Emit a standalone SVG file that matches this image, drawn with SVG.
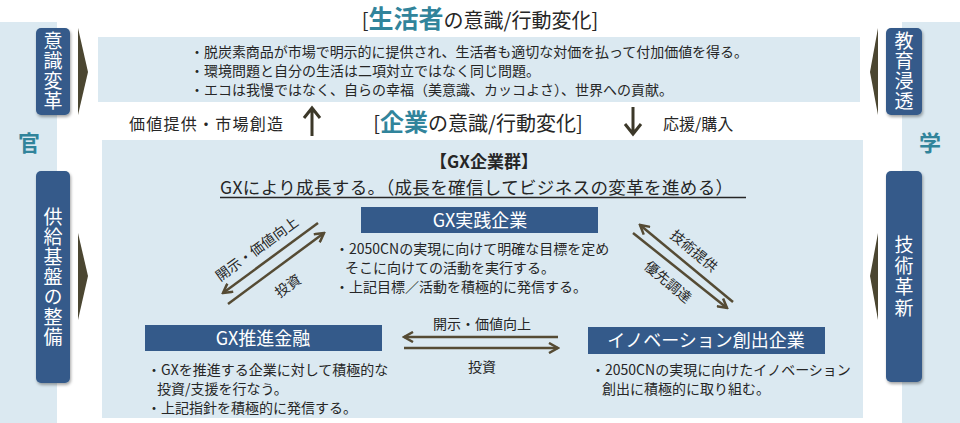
<svg xmlns="http://www.w3.org/2000/svg" width="960" height="423" viewBox="0 0 960 423">
<style>
text{font-family:"Noto Sans CJK JP","Noto Sans",sans-serif;fill:#262626}
.bg{fill:#dbe9f1}
.pill{fill:#345a8a;filter:url(#sh)}
.pt{fill:#fff;font-size:19px;text-anchor:middle;writing-mode:vertical-rl}
.box{fill:#345a8a}
.bt{fill:#fff;font-size:18px;text-anchor:middle}
.b{font-size:14px}
.l{font-size:16px}
.teal{fill:#31849b;font-weight:bold}
.tri{fill:#4b4631}
.arr{stroke:#554b34;stroke-width:2.5;fill:none;marker-end:url(#ah)}
.va{stroke:#3c3829;stroke-width:3;fill:none}
</style>
<defs>
<filter id="sh" x="-30%" y="-10%" width="160%" height="120%"><feDropShadow dx="1" dy="2" stdDeviation="1.5" flood-color="#000" flood-opacity="0.35"/></filter>
<marker id="ah" viewBox="0 0 12 12" refX="10" refY="6" markerWidth="12" markerHeight="12" markerUnits="userSpaceOnUse" orient="auto"><path d="M1,1 L10,6 L1,11" fill="none" stroke="#554b34" stroke-width="2.5"/></marker>
</defs>

<g id="side-left">
<rect class="bg" x="0" y="22" width="57" height="401"/>
<text x="29" y="151" font-size="22" class="teal" text-anchor="middle">官</text>
</g>
<g id="side-right">
<rect class="bg" x="902" y="22" width="58" height="401"/>
<text x="930" y="151" font-size="22" class="teal" text-anchor="middle">学</text>
</g>

<g id="consumer">
<text x="480" y="28" text-anchor="middle" font-size="20">[<tspan class="teal" font-size="25">生活者</tspan>の意識/行動変化]</text>
<rect class="bg" x="98" y="37" width="762" height="65"/>
<text class="b" x="190" y="57" textLength="558">・脱炭素商品が市場で明示的に提供され、生活者も適切な対価を払って付加価値を得る。</text>
<text class="b" x="190" y="76">・環境問題と自分の生活は二項対立ではなく同じ問題。</text>
<text class="b" x="190" y="95">・エコは我慢ではなく、自らの幸福（美意識、カッコよさ）、世界への貢献。</text>
</g>

<g id="mid-labels">
<text class="l" x="129" y="130" textLength="154">価値提供・市場創造</text>
<text x="478" y="131" text-anchor="middle" font-size="20">[<tspan class="teal" font-size="24">企業</tspan>の意識/行動変化]</text>
<text class="l" x="663" y="130">応援/購入</text>
</g>

<g id="gx-group">
<rect class="bg" x="102" y="140" width="761" height="278"/>
<text x="484" y="168" text-anchor="middle" font-size="17" font-weight="bold">【GX企業群】</text>
<text x="220" y="194" font-size="17.5" textLength="513">GXにより成長する。（成長を確信してビジネスの変革を進める）</text>
<line x1="220" y1="197.5" x2="746" y2="197.5" stroke="#262626" stroke-width="1.3"/>
</g>

<g id="gx-practice">
<rect class="box" x="361" y="207" width="237" height="26"/>
<text class="bt" x="480" y="227">GX実践企業</text>
<text class="b" x="335" y="254">・2050CNの実現に向けて明確な目標を定め</text>
<text class="b" x="345" y="273">そこに向けての活動を実行する。</text>
<text class="b" x="335" y="292">・上記目標／活動を積極的に発信する。</text>
</g>

<g id="gx-finance">
<rect class="box" x="145" y="325" width="237" height="26"/>
<text class="bt" x="263" y="345">GX推進金融</text>
<text class="b" x="147" y="375">・GXを推進する企業に対して積極的な</text>
<text class="b" x="157" y="394">投資/支援を行なう。</text>
<text class="b" x="147" y="413">・上記指針を積極的に発信する。</text>
</g>

<g id="innovation">
<rect class="box" x="588" y="327" width="237" height="27"/>
<text class="bt" x="706" y="347">イノベーション創出企業</text>
<text class="b" x="591" y="375">・2050CNの実現に向けたイノベーション</text>
<text class="b" x="602" y="394">創出に積極的に取り組む。</text>
</g>

<g id="pill-awareness">
<rect class="pill" x="36" y="28" width="34" height="87" rx="5"/>
<text class="pt" x="53" y="71" letter-spacing="1">意識変革</text>
<polygon class="tri" points="78,28 88,72 78,115"/>
</g>
<g id="pill-supply">
<rect class="pill" x="36" y="171" width="34" height="212" rx="5"/>
<text class="pt" x="53" y="277" letter-spacing="1">供給基盤の整備</text>
<polygon class="tri" points="78,233 88,276 78,320"/>
</g>
<g id="pill-education">
<rect class="pill" x="886" y="28" width="36" height="87" rx="5"/>
<text class="pt" x="904" y="71" letter-spacing="1">教育浸透</text>
<polygon class="tri" points="878,28 870,72 878,115"/>
</g>
<g id="pill-tech">
<rect class="pill" x="886" y="171" width="36" height="211" rx="5"/>
<text class="pt" x="904" y="277" letter-spacing="2">技術革新</text>
<polygon class="tri" points="878,233 870,276 878,320"/>
</g>

<g id="connectors">
<path class="va" d="M312,136 V109 M304,118 L312,108 L320,118"/>
<path class="va" d="M633,107 V134 M625,124 L633,134 L641,124"/>
<line class="arr" x1="318" y1="223" x2="223" y2="293"/>
<line class="arr" x1="228" y1="304" x2="324" y2="233"/>
<line class="arr" x1="733" y1="302" x2="640" y2="225"/>
<line class="arr" x1="633" y1="233" x2="727" y2="308"/>
<line class="arr" x1="558" y1="337" x2="404" y2="337"/>
<line class="arr" x1="404" y1="348" x2="558" y2="348"/>
<text class="b" transform="translate(257,249) rotate(-36)" text-anchor="middle" y="5">開示・価値向上</text>
<text class="b" transform="translate(288,286) rotate(-36)" text-anchor="middle" y="5">投資</text>
<text class="b" transform="translate(694,251) rotate(40)" text-anchor="middle" y="5">技術提供</text>
<text class="b" transform="translate(668,282) rotate(40)" text-anchor="middle" y="5">優先調達</text>
<text class="b" x="482" y="329" text-anchor="middle">開示・価値向上</text>
<text class="b" x="482" y="372" text-anchor="middle">投資</text>
</g>
</svg>
